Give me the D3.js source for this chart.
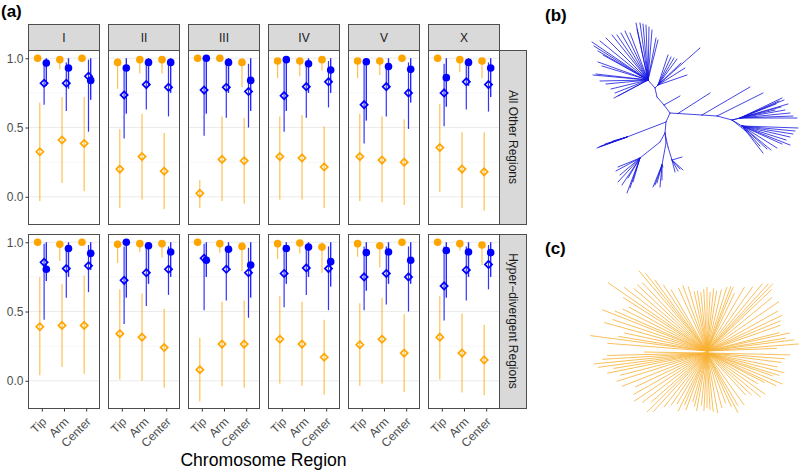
<!DOCTYPE html>
<html><head><meta charset="utf-8">
<script src="https://cdn.jsdelivr.net/npm/d3@7"></script>
<style>body{margin:0;background:#fff} svg{display:block;font-family:"Liberation Sans",Arial,sans-serif}</style>
</head><body><svg id="chart" width="799" height="473"></svg>
<script>
// ---------- data: panel (a) ----------
const chromosomes = ["I","II","III","IV","V","X"];
const regions = ["Tip","Arm","Center"];
const rowLabels = ["All Other Regions","Hyper\u2212divergent Regions"];
const yTicks = [0, 0.5, 1];

// orange filled circle: value and lower CI  [row][chromosome][region]
const oCircleVal = [
  [[1.0,0.99,1.0],[0.97,0.99,0.99],[1.0,1.0,0.97],[0.98,0.98,0.99],[0.98,0.98,1.0],[1.0,0.99,0.98]],
  [[1.0,0.985,1.0],[0.985,0.99,0.99],[1.0,0.99,0.97],[0.99,0.995,0.965],[0.99,0.975,1.0],[1.0,0.99,0.98]]
];
const oCircleLo = [
  [[1.0,0.92,1.0],[0.78,0.89,0.89],[1.0,1.0,0.79],[0.855,0.87,0.91],[0.855,0.88,1.0],[1.0,0.90,0.855]],
  [[1.0,0.865,1.0],[0.85,0.93,0.89],[1.0,0.925,0.79],[0.88,0.92,0.78],[0.895,0.82,1.0],[1.0,0.94,0.835]]
];
// orange open diamond: value, lower, upper
const oDiamVal = [
  [[0.325,0.41,0.385],[0.20,0.29,0.185],[0.025,0.27,0.26],[0.29,0.28,0.215],[0.29,0.265,0.25],[0.355,0.20,0.18]],
  [[0.39,0.40,0.40],[0.34,0.315,0.24],[0.08,0.265,0.265],[0.30,0.265,0.17],[0.26,0.30,0.20],[0.315,0.20,0.15]]
];
const oDiamLo = [
  [[-0.03,0.10,0.04],[-0.08,-0.02,-0.09],[-0.08,-0.03,-0.05],[-0.02,-0.02,-0.08],[-0.03,-0.04,-0.06],[0.035,-0.08,-0.10]],
  [[0.04,0.10,0.05],[0.01,0.0,-0.05],[-0.15,-0.04,-0.05],[-0.02,-0.035,-0.10],[-0.035,-0.02,-0.08],[0.01,-0.085,-0.105]]
];
const oDiamHi = [
  [[0.68,0.72,0.72],[0.49,0.60,0.46],[0.12,0.58,0.57],[0.58,0.59,0.51],[0.60,0.58,0.56],[0.67,0.465,0.465]],
  [[0.75,0.70,0.76],[0.66,0.63,0.52],[0.31,0.57,0.58],[0.61,0.57,0.44],[0.56,0.60,0.48],[0.61,0.485,0.405]]
];
// blue filled circle: value, lower CI
const bCircleVal = [
  [[0.965,0.93,0.84],[0.93,0.97,0.97],[1.0,0.97,0.84],[0.99,0.96,0.915],[0.975,0.94,0.92],[0.86,0.97,0.93]],
  [[0.805,0.955,0.92],[1.0,0.975,0.93],[0.87,0.95,0.835],[0.955,0.965,0.86],[0.925,0.93,0.87],[0.94,0.93,0.925]]
];
const bCircleLo = [
  [[0.80,0.78,0.70],[0.60,0.80,0.75],[0.60,0.75,0.62],[0.62,0.75,0.75],[0.55,0.78,0.68],[0.65,0.80,0.72]],
  [[0.72,0.75,0.80],[0.60,0.70,0.75],[0.75,0.80,0.60],[0.70,0.75,0.68],[0.65,0.70,0.70],[0.60,0.75,0.75]]
];
// blue open diamond: value, lower, upper
const bDiamVal = [
  [[0.82,0.82,0.87],[0.735,0.81,0.79],[0.77,0.79,0.76],[0.73,0.795,0.83],[0.665,0.795,0.75],[0.75,0.83,0.81]],
  [[0.855,0.81,0.83],[0.725,0.78,0.805],[0.885,0.805,0.78],[0.775,0.815,0.81],[0.75,0.775,0.75],[0.685,0.80,0.84]]
];
const bDiamLo = [
  [[0.665,0.62,0.47],[0.42,0.63,0.58],[0.44,0.57,0.50],[0.47,0.57,0.645],[0.385,0.58,0.49],[0.51,0.63,0.615]],
  [[0.44,0.60,0.64],[0.41,0.54,0.62],[0.51,0.58,0.455],[0.53,0.62,0.51],[0.51,0.55,0.50],[0.435,0.58,0.66]]
];
const bDiamHi = [
  [[0.95,0.97,0.99],[0.95,0.97,0.97],[0.98,0.97,0.96],[0.97,0.97,0.98],[0.96,0.96,0.97],[0.96,0.97,0.97]],
  [[0.99,0.97,0.98],[0.97,0.98,0.97],[0.99,0.97,0.96],[0.98,0.97,0.97],[0.97,0.97,0.97],[0.97,0.97,0.98]]
];

// ---------- data: panel (b) tree (node positions in layout units, root at 0,0) ----------
const treeBNodes = [
  ["R",null,0,0],["A0","R",-6,-8],["A1","A0",-13,-16],["A2","A1",-15,-25],["A3","A2",-22,-33],["A6","A2",-12,-28],
  ["B0","R",8,0.5],["B1","B0",32,2],["B1b","B1",47,3],["B2","B1b",62,7],["B3","B2",70,5],["B4","B2",72,13],
  ["C1","R",-4,9],["C1L","C1",-43,24],["C2","C1",-5,20],["C3","C2",-10,29],["C3a","C3",-30,45],
  ["C4","C2",-4,30],["C4a","C4",-8,52],["C5","C2",-2,34],["C5a","C5",2,47]
];
const treeBTips = {
  A0: [[10,-17]],
  A3: [[-12,-73],[-14,-75],[-18,-83],[-21,-86],[-24,-88],[-27,-89],[-30,-90],[-34,-90],[-33,-84],[-40,-80],
       [-45,-82],[-49,-80],[-53,-78],[-58,-78],[-64,-75],[-70,-72],[-78,-71],[-76,-67],[-72,-62],[-67,-58],
       [-72,-51],[-68,-47],[-74,-39],[-77,-38],[-70,-32],[-64,-29],[-59,-24],[-55,-20],[-56,-15],[-52,-17]],
  A6: [[-2,-58],[1,-56],[4,-55],[7,-54],[11,-50],[15,-45],[17,-38],[30,-65]],
  B0: [[40,-20]], B1: [[80,-26]], B1b: [[93,-20]],
  B2: [[77,19],[105,-3]],
  B3: [[112,-15],[109,-12],[106,-9],[111,-6],[115,-3],[120,0],[127,5],[123,3],[118,-9],[114,-13]],
  B4: [[128,15],[125,18],[123,21],[120,24],[116,27],[120,32],[112,31],[107,35],[101,37],[93,40],[97,36],[90,33]],
  C1L: [[-73,35],[-71,34],[-69,33],[-65,31],[-61,30],[-57,28]],
  C3a: [[-52,54],[-54,58],[-50,62],[-52,69],[-48,72],[-43,80],[-40,75],[-37,69],[-42,65]],
  C4a: [[-17,74],[-15,72],[-13,70],[-10,74],[-8,67],[-7,54]],
  C5a: [[5,59],[8,58],[10,56],[13,57],[12,44]]
};

// ---------- data: panel (c) star tree: [angle deg, branch length] ----------
const treeCRays = [
  [355,93],[352,88],[350,80],[347,85],[345,75],[357,70],[2,83],[5,78],[8,75],
  [12,72],[15,80],[18,76],[20,70],[23,82],[26,77],[28,65],[32,60],[36,72],[40,70],[44,62],[48,58],
  [55,65],[60,62],[63,68],[66,60],[70,55],[75,58],[80,62],[84,60],[87,58],[90,56],[93,59],[96,54],
  [100,60],[103,56],[106,52],[110,62],[113,58],[116,66],[120,60],[124,64],
  [128,70],[132,80],[135,85],[138,75],[142,82],[146,88],[150,85],[154,80],[158,92],[162,95],[165,90],
  [168,102],[170,95],[172,110],[174,114],[176,105],[178,100],[180,63],
  [185,100],[188,118],[190,90],[193,85],[196,107],[199,100],[202,113],[204,101],[207,95],[210,90],
  [213,100],[215,121],[218,105],[221,97],[224,97],[227,95],[230,106],[232,100],[234,89],[237,80],[240,72],
  [246,70],[250,71],[254,68],[258,62],[261,62],[264,60],[267,63],[270,65],[273,60],[276,64],[279,62],
  [283,64],[287,68],[290,70],[292,70],[295,65],
  [300,75],[305,80],[309,88],[312,92],[314,95],[316,90],[320,85],[325,88],[330,82],[334,84],[337,80],[340,78]
];

// ---------- drawing ----------
const svg = d3.select("#chart");
svg.append("rect").attr("width",799).attr("height",473).attr("fill","#fff");

const ORANGE = "#FFA500", BLUE = "#0000FF";
const panelW = 71, panelH = 174, panelX0 = 28, panelStep = 80;
const rowY = [50, 234];
const stripTop = 24, stripH = 26, rightStripW = 27;

const x = d3.scalePoint().domain(regions).range([0, panelW]).padding(0.6);
const y = d3.scaleLinear().domain([-0.2, 1.056]).range([panelH, 0]);
const dodge = {oc: -4.2, od: -2, bd: 2.3, bc: 4.5};

const a = svg.append("g");

// strips on top
chromosomes.forEach((c, j) => {
  const gx = panelX0 + j * panelStep;
  a.append("rect").attr("x", gx + 0.5).attr("y", stripTop + 0.5).attr("width", panelW).attr("height", stripH)
    .attr("fill", "#d9d9d9").attr("stroke", "#4d4d4d").attr("stroke-width", 1);
  a.append("text").attr("x", gx + panelW / 2 + 0.5).attr("y", stripTop + stripH / 2 + 4.5)
    .attr("text-anchor", "middle").attr("font-size", 12).attr("fill", "#1a1a1a").text(c);
});

const diamondPath = s => `M0,${-s}L${s},0L0,${s}L${-s},0Z`;

rowLabels.forEach((lab, r) => {
  const gy = rowY[r];
  // right strip
  const sx = panelX0 + 5 * panelStep + panelW;
  a.append("rect").attr("x", sx + 0.5).attr("y", gy + 0.5).attr("width", rightStripW).attr("height", panelH)
    .attr("fill", "#d9d9d9").attr("stroke", "#4d4d4d").attr("stroke-width", 1);
  a.append("text").attr("transform", `translate(${sx + rightStripW / 2 - 4},${gy + panelH / 2}) rotate(90)`)
    .attr("text-anchor", "middle").attr("font-size", 12).attr("fill", "#1a1a1a").text(lab);

  chromosomes.forEach((c, j) => {
    const g = a.append("g").attr("transform", `translate(${panelX0 + j * panelStep + 0.5},${gy + 0.5})`);
    g.append("rect").attr("width", panelW).attr("height", panelH).attr("fill", "#fff");
    // grid
    [0.25, 0.75].forEach(v => g.append("line").attr("x1", 0).attr("x2", panelW).attr("y1", y(v)).attr("y2", y(v))
      .attr("stroke", "#f2f2f2").attr("stroke-width", 0.6));
    yTicks.forEach(v => g.append("line").attr("x1", 0).attr("x2", panelW).attr("y1", y(v)).attr("y2", y(v))
      .attr("stroke", "#ebebeb").attr("stroke-width", 1.1));

    regions.forEach((reg, k) => {
      const cx = x(reg);
      // orange diamond CI
      g.append("line").attr("x1", cx + dodge.od).attr("x2", cx + dodge.od)
        .attr("y1", y(oDiamHi[r][j][k])).attr("y2", y(oDiamLo[r][j][k]))
        .attr("stroke", ORANGE).attr("stroke-opacity", 0.75).attr("stroke-width", 1.1);
      // orange circle CI
      g.append("line").attr("x1", cx + dodge.oc).attr("x2", cx + dodge.oc)
        .attr("y1", y(1)).attr("y2", y(oCircleLo[r][j][k]))
        .attr("stroke", ORANGE).attr("stroke-opacity", 0.75).attr("stroke-width", 1.1);
      // blue diamond CI
      g.append("line").attr("x1", cx + dodge.bd).attr("x2", cx + dodge.bd)
        .attr("y1", y(bDiamHi[r][j][k])).attr("y2", y(bDiamLo[r][j][k]))
        .attr("stroke", BLUE).attr("stroke-opacity", 0.8).attr("stroke-width", 1.2);
      // blue circle CI
      g.append("line").attr("x1", cx + dodge.bc).attr("x2", cx + dodge.bc)
        .attr("y1", y(1)).attr("y2", y(bCircleLo[r][j][k]))
        .attr("stroke", BLUE).attr("stroke-opacity", 0.85).attr("stroke-width", 1.4);
    });
    regions.forEach((reg, k) => {
      const cx = x(reg);
      g.append("circle").attr("cx", cx + dodge.oc).attr("cy", y(oCircleVal[r][j][k])).attr("r", 3.8).attr("fill", ORANGE);
      g.append("path").attr("d", diamondPath(3.6)).attr("transform", `translate(${cx + dodge.od},${y(oDiamVal[r][j][k])})`)
        .attr("fill", "none").attr("stroke", ORANGE).attr("stroke-width", 1.7);
    });
    regions.forEach((reg, k) => {
      const cx = x(reg);
      g.append("circle").attr("cx", cx + dodge.bc).attr("cy", y(bCircleVal[r][j][k])).attr("r", 3.8).attr("fill", BLUE);
      g.append("path").attr("d", diamondPath(3.6)).attr("transform", `translate(${cx + dodge.bd},${y(bDiamVal[r][j][k])})`)
        .attr("fill", "none").attr("stroke", BLUE).attr("stroke-width", 1.7);
    });
    // border
    g.append("rect").attr("width", panelW).attr("height", panelH).attr("fill", "none")
      .attr("stroke", "#4d4d4d").attr("stroke-width", 1);

    // axes
    if (j === 0) {
      const ax = g.append("g").call(d3.axisLeft(y).tickValues(yTicks).tickFormat(d3.format(".1f")).tickSize(3).tickPadding(2));
      ax.select(".domain").remove();
      ax.selectAll("line").attr("stroke", "#333");
      ax.selectAll("text").attr("font-size", 12).attr("fill", "#4d4d4d").attr("font-family", "Liberation Sans, Arial, sans-serif");
    }
    if (r === 1) {
      const ax = g.append("g").attr("transform", `translate(0,${panelH})`)
        .call(d3.axisBottom(x).tickSize(3).tickPadding(2));
      ax.select(".domain").remove();
      ax.selectAll("line").attr("stroke", "#333");
      ax.selectAll("text").attr("font-size", 12).attr("fill", "#4d4d4d").attr("font-family", "Liberation Sans, Arial, sans-serif")
        .attr("text-anchor", "end").attr("dy", null).attr("y", null)
        .attr("transform", "translate(5,14) rotate(-45)");
    }
  });
});

// axis title & labels
svg.append("text").attr("x", 263.5).attr("y", 466).attr("text-anchor", "middle").attr("font-size", 17.6)
  .attr("fill", "#000").text("Chromosome Region");
svg.append("text").attr("x", 1).attr("y", 17).attr("font-size", 17).attr("font-weight", "bold").text("(a)");
svg.append("text").attr("x", 545).attr("y", 21).attr("font-size", 17).attr("font-weight", "bold").text("(b)");
svg.append("text").attr("x", 545).attr("y", 254).attr("font-size", 17).attr("font-weight", "bold").text("(c)");

// ---------- (b) tree ----------
const bx = d3.scaleLinear().domain([-80, 130]).range([590, 800]);
const by = d3.scaleLinear().domain([0, 100]).range([113, 213]);
const nodePos = {};
treeBNodes.forEach(([id, p, nx, ny]) => { nodePos[id] = [nx, ny]; });
const bSegs = [];
treeBNodes.forEach(([id, p]) => { if (p) bSegs.push([nodePos[p], nodePos[id]]); });
Object.entries(treeBTips).forEach(([hub, tips]) => tips.forEach(t => bSegs.push([nodePos[hub], t])));
svg.append("g").selectAll("line").data(bSegs).join("line")
  .attr("x1", d => bx(d[0][0])).attr("y1", d => by(d[0][1]))
  .attr("x2", d => bx(d[1][0])).attr("y2", d => by(d[1][1]))
  .attr("stroke", "#1515e0").attr("stroke-width", 0.8).attr("stroke-linecap", "round");

// ---------- (c) star tree ----------
const cx0 = d3.scaleLinear().domain([0, 100]).range([707, 807]);
const cy0 = d3.scaleLinear().domain([0, 100]).range([352, 452]);
svg.append("g").selectAll("line").data(treeCRays).join("line")
  .attr("x1", d => cx0(0)).attr("y1", d => cy0(d[0] > 180 && d[0] < 360 ? -1 : 1))
  .attr("x2", d => cx0(d[1] * Math.cos(d[0] * Math.PI / 180)))
  .attr("y2", d => cy0(d[1] * Math.sin(d[0] * Math.PI / 180)))
  .attr("stroke", "#F7B032").attr("stroke-width", 0.8);
</script></body></html>
